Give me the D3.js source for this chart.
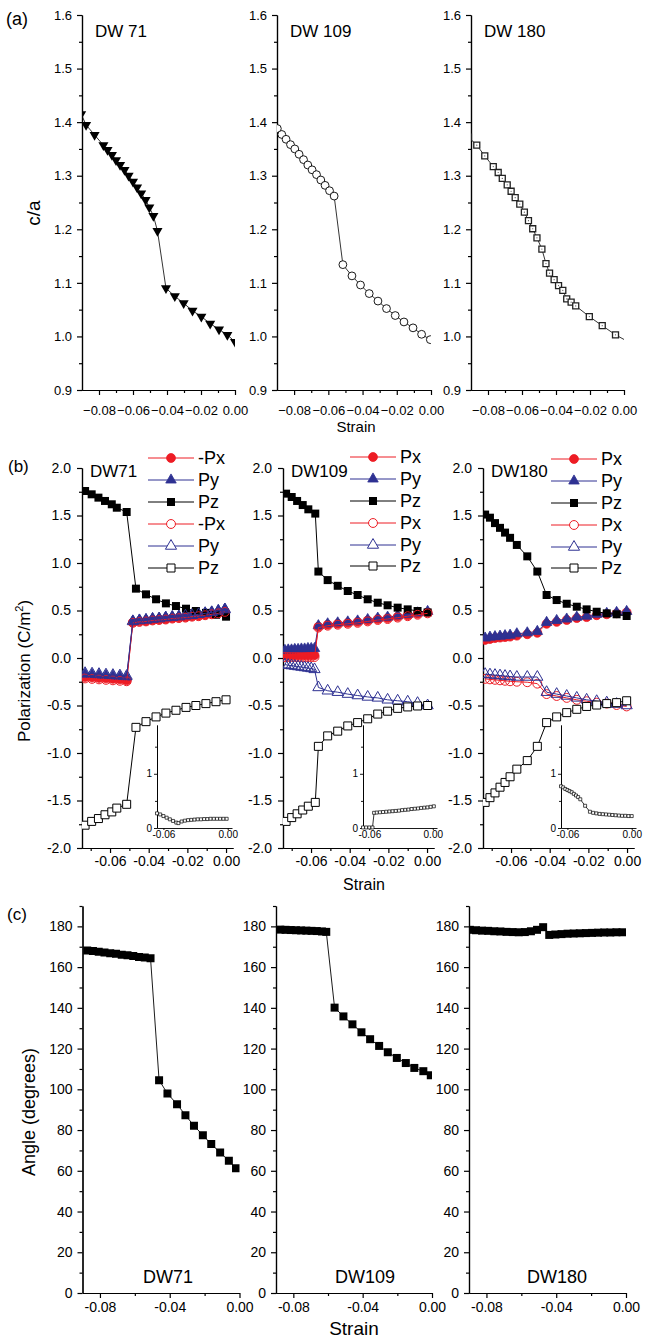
<!DOCTYPE html>
<html>
<head>
<meta charset="utf-8">
<script src="https://cdn.jsdelivr.net/npm/d3@7"></script>
<style>
  body { margin: 0; background: #fff; }
  text { font-family: "Liberation Sans", Arial, sans-serif; }
</style>
</head>
<body>
<div id="chart"></div>
<script>
// ---------- panel (a): c/a vs strain ----------
const a71_x = [-0.0905,-0.0876,-0.0826,-0.0774,-0.075,-0.0724,-0.070,-0.0676,-0.065,-0.0626,-0.060,-0.0576,-0.0552,-0.0526,-0.0504,-0.048,-0.0456,-0.0406,-0.0354,-0.0302,-0.025,-0.0198,-0.0146,-0.0094,-0.0045,0.0];
const a71   = [1.415,1.395,1.376,1.357,1.348,1.339,1.329,1.320,1.311,1.300,1.289,1.278,1.267,1.255,1.241,1.225,1.197,1.090,1.075,1.062,1.048,1.037,1.024,1.013,1.003,0.990];
const a109_x = [-0.0898,-0.0872,-0.0847,-0.0821,-0.0796,-0.0771,-0.0745,-0.072,-0.0695,-0.0669,-0.0644,-0.0619,-0.0593,-0.0566,-0.0515,-0.0462,-0.0412,-0.0361,-0.031,-0.026,-0.0209,-0.0158,-0.0105,-0.0055,-0.0004];
const a109   = [1.388,1.377,1.368,1.358,1.350,1.340,1.330,1.320,1.311,1.302,1.292,1.282,1.272,1.262,1.134,1.113,1.096,1.080,1.066,1.052,1.039,1.027,1.016,1.004,0.994];
const a180_x = [-0.0915,-0.0866,-0.0819,-0.0769,-0.074,-0.0716,-0.0687,-0.0664,-0.064,-0.0613,-0.0586,-0.0562,-0.0537,-0.0512,-0.0483,-0.0459,-0.0438,-0.0411,-0.0385,-0.036,-0.0337,-0.0311,-0.0284,-0.0204,-0.0128,-0.005,0.0025];
const a180   = [1.372,1.357,1.337,1.317,1.306,1.295,1.283,1.271,1.259,1.247,1.232,1.216,1.201,1.184,1.163,1.136,1.118,1.106,1.095,1.086,1.070,1.064,1.057,1.037,1.020,1.003,0.990];

// ---------- panel (b): polarization ----------
const b71_pz_x = [-0.0729,-0.0695,-0.066,-0.0626,-0.0591,-0.0565,-0.0514,-0.0466,-0.0414,-0.0362,-0.0311,-0.0259,-0.0207,-0.0156,-0.0104,-0.0052,0.0];
const b71_pz   = [1.758,1.723,1.688,1.653,1.618,1.582,1.537,0.730,0.670,0.618,0.575,0.547,0.519,0.495,0.475,0.455,0.435];
const b71_pzo  = [-1.76,-1.72,-1.69,-1.65,-1.62,-1.58,-1.54,-0.73,-0.67,-0.62,-0.58,-0.55,-0.52,-0.50,-0.48,-0.46,-0.44];
const b71_p_x  = [-0.0729,-0.0693,-0.0657,-0.0621,-0.0585,-0.0549,-0.0514,-0.0482,-0.0448,-0.0414,-0.038,-0.0346,-0.0312,-0.0278,-0.0244,-0.021,-0.0176,-0.0142,-0.0108,-0.0074,-0.004,-0.0006];
const b71_px   = [-0.20,-0.205,-0.21,-0.215,-0.22,-0.225,-0.235,0.375,0.385,0.39,0.40,0.405,0.41,0.42,0.425,0.43,0.44,0.445,0.455,0.465,0.475,0.49];
const b71_py   = [-0.17,-0.175,-0.18,-0.185,-0.19,-0.195,-0.20,0.39,0.40,0.405,0.415,0.42,0.43,0.435,0.44,0.45,0.455,0.465,0.475,0.485,0.50,0.515];
const b71_pxo  = [-0.215,-0.22,-0.225,-0.23,-0.235,-0.24,-0.245,0.37,0.38,0.385,0.395,0.40,0.405,0.415,0.42,0.425,0.435,0.44,0.45,0.46,0.47,0.485];
const b71_pyo  = [-0.16,-0.165,-0.17,-0.175,-0.18,-0.185,-0.19,0.385,0.395,0.40,0.41,0.415,0.425,0.43,0.435,0.445,0.45,0.46,0.47,0.48,0.495,0.51];

const b109_pz_x = [-0.0729,-0.07,-0.0672,-0.0643,-0.0614,-0.0578,-0.0562,-0.0514,-0.0462,-0.041,-0.0359,-0.0307,-0.0255,-0.0204,-0.0152,-0.01,-0.0049,0.0003];
const b109_pz   = [1.73,1.695,1.653,1.61,1.565,1.52,0.91,0.82,0.76,0.705,0.663,0.618,0.582,0.555,0.53,0.512,0.495,0.48];
const b109_pzo  = [-1.72,-1.68,-1.64,-1.60,-1.56,-1.52,-0.93,-0.82,-0.77,-0.715,-0.68,-0.64,-0.59,-0.56,-0.53,-0.515,-0.505,-0.50];
const b109_p_x  = [-0.0735,-0.0718,-0.0701,-0.0684,-0.0667,-0.065,-0.0633,-0.0616,-0.0599,-0.0582,-0.0562,-0.0514,-0.0462,-0.041,-0.0359,-0.0307,-0.0255,-0.0204,-0.0152,-0.01,-0.0049,0.0003];
const b109_px   = [0.03,0.03,0.03,0.03,0.03,0.03,0.03,0.03,0.03,0.03,0.33,0.35,0.36,0.37,0.38,0.395,0.41,0.42,0.435,0.45,0.465,0.48];
const b109_py   = [0.08,0.085,0.085,0.09,0.09,0.095,0.095,0.10,0.10,0.10,0.34,0.36,0.37,0.38,0.39,0.405,0.42,0.43,0.445,0.46,0.475,0.49];
const b109_pxo  = [0.01,0.01,0.01,0.01,0.01,0.01,0.01,0.01,0.01,0.01,0.32,0.34,0.35,0.36,0.37,0.385,0.40,0.41,0.425,0.44,0.455,0.47];
const b109_pyo  = [-0.07,-0.075,-0.08,-0.085,-0.09,-0.095,-0.10,-0.105,-0.11,-0.12,-0.31,-0.345,-0.36,-0.38,-0.395,-0.41,-0.42,-0.44,-0.45,-0.46,-0.475,-0.50];

const b180_x   = [-0.0734,-0.0709,-0.0683,-0.0657,-0.0631,-0.0605,-0.057,-0.0516,-0.0464,-0.0416,-0.0364,-0.0312,-0.026,-0.0209,-0.0157,-0.0105,-0.0054,-0.0002];
const b180_pz  = [1.51,1.477,1.42,1.37,1.32,1.265,1.19,1.07,0.91,0.663,0.61,0.571,0.54,0.512,0.487,0.47,0.46,0.442];
const b180_pzo = [-1.52,-1.47,-1.42,-1.36,-1.31,-1.25,-1.17,-1.08,-0.93,-0.68,-0.62,-0.575,-0.54,-0.51,-0.495,-0.48,-0.47,-0.45];
const b180_px  = [0.19,0.20,0.21,0.215,0.22,0.225,0.235,0.25,0.265,0.36,0.38,0.40,0.42,0.43,0.45,0.46,0.47,0.48];
const b180_py  = [0.21,0.22,0.225,0.23,0.235,0.24,0.255,0.265,0.28,0.375,0.395,0.41,0.43,0.44,0.46,0.47,0.48,0.49];
const b180_pxo = [-0.22,-0.225,-0.23,-0.235,-0.24,-0.245,-0.25,-0.255,-0.27,-0.38,-0.40,-0.42,-0.44,-0.455,-0.47,-0.48,-0.495,-0.51];
const b180_pyo = [-0.17,-0.175,-0.18,-0.185,-0.19,-0.195,-0.20,-0.20,-0.20,-0.36,-0.38,-0.40,-0.42,-0.44,-0.455,-0.47,-0.485,-0.50];

// insets in (b)
const in71_x  = [-0.066,-0.063,-0.060,-0.057,-0.054,-0.051,-0.048,-0.046,-0.043,-0.040,-0.037,-0.034,-0.031,-0.028,-0.025,-0.022,-0.019,-0.016,-0.013,-0.010,-0.007,-0.004,-0.001];
const in71    = [0.27,0.25,0.22,0.19,0.16,0.13,0.10,0.09,0.12,0.135,0.145,0.15,0.155,0.16,0.16,0.165,0.165,0.17,0.17,0.17,0.17,0.17,0.17];
const in109_x = [-0.066,-0.063,-0.060,-0.057,-0.0555,-0.053,-0.050,-0.047,-0.044,-0.041,-0.038,-0.035,-0.032,-0.029,-0.026,-0.023,-0.020,-0.017,-0.014,-0.011,-0.008,-0.005,-0.002,0.001];
const in109   = [0.01,0.01,0.01,0.01,0.28,0.285,0.29,0.295,0.30,0.305,0.31,0.315,0.32,0.33,0.335,0.34,0.35,0.355,0.36,0.37,0.375,0.38,0.39,0.40];
const in180_x = [-0.066,-0.064,-0.062,-0.060,-0.058,-0.056,-0.054,-0.052,-0.050,-0.048,-0.0435,-0.039,-0.036,-0.033,-0.030,-0.027,-0.024,-0.021,-0.018,-0.015,-0.012,-0.009,-0.006,-0.003,0.0];
const in180   = [0.77,0.75,0.72,0.70,0.68,0.66,0.63,0.60,0.57,0.53,0.41,0.30,0.28,0.27,0.26,0.255,0.25,0.245,0.24,0.235,0.23,0.225,0.225,0.22,0.22];

// ---------- panel (c): angle ----------
const c71_x = [-0.0873,-0.084,-0.0807,-0.0774,-0.0741,-0.0708,-0.0675,-0.0642,-0.0609,-0.0576,-0.0543,-0.051,-0.0461,-0.0413,-0.0358,-0.031,-0.0261,-0.021,-0.0162,-0.0111,-0.0061,-0.002];
const c71   = [168.2,167.9,167.5,167.2,166.8,166.5,166.1,165.8,165.4,165.0,164.7,164.3,104.5,97.9,92.7,87.3,82.1,77.5,73.1,69.0,64.9,61.2];
const c109_x = [-0.0875,-0.0845,-0.0815,-0.0785,-0.0755,-0.0725,-0.0695,-0.0665,-0.0635,-0.061,-0.0562,-0.0511,-0.0459,-0.0407,-0.0357,-0.0305,-0.0255,-0.0203,-0.0151,-0.0102,-0.005,-0.0007];
const c109   = [178.4,178.3,178.2,178.1,178.0,177.9,177.8,177.7,177.5,177.3,140.1,135.8,131.9,128.0,124.6,121.3,118.2,115.4,112.9,110.5,108.9,106.9];
const c180_x = [-0.0895,-0.086,-0.0825,-0.079,-0.0755,-0.072,-0.0685,-0.065,-0.0615,-0.058,-0.0545,-0.051,-0.0475,-0.044,-0.0405,-0.037,-0.0335,-0.03,-0.0265,-0.023,-0.0195,-0.016,-0.0125,-0.009,-0.0055,-0.002];
const c180   = [178.3,178.1,177.9,177.8,177.6,177.5,177.3,177.2,177.1,177.2,177.6,178.3,179.6,175.8,176.0,176.2,176.4,176.5,176.6,176.7,176.8,176.9,177.0,177.0,177.1,177.1];

// ---------- ticks and labels ----------
const aTicksX = [-0.08,-0.06,-0.04,-0.02,0.00], aMinorX = [-0.07,-0.05,-0.03,-0.01];
const aTicksY = [0.9,1.0,1.1,1.2,1.3,1.4,1.5,1.6], aMinorY = [0.95,1.05,1.15,1.25,1.35,1.45,1.55];
const bTicksX = [-0.06,-0.04,-0.02,0.00], bMinorX = [-0.07,-0.05,-0.03,-0.01];
const bTicksY = [-2.0,-1.5,-1.0,-0.5,0.0,0.5,1.0,1.5,2.0], bMinorY = [-1.75,-1.25,-0.75,-0.25,0.25,0.75,1.25,1.75];
const cTicksX = [-0.08,-0.04,0.00], cMinorX = [-0.06,-0.02];
const cTicksY = [0,20,40,60,80,100,120,140,160,180], cMinorY = [10,30,50,70,90,110,130,150,170,190];
const insTicksX = [-0.06,0.00], insTicksY = [0,1], insMinorY = [0.5,1.5];
const aNames = ["DW 71","DW 109","DW 180"];
const bNames = ["DW71","DW109","DW180"];
const legend71 = ["-Px","Py","Pz","-Px","Py","Pz"];
const legendOther = ["Px","Py","Pz","Px","Py","Pz"];

const RED = "#ed1c24", BLUE = "#2e3192";

const svg = d3.select("#chart").append("svg").attr("width", 654).attr("height", 1341);

const hy = f => d => f(d).replace("\u2212", "-");

function axes(g, x, y, o) {
  const y0 = y.range()[0], x0 = x.range()[0];
  const add = (ax, t) => g.append("g").attr("transform", t).call(ax)
    .attr("font-family", null).attr("font-size", o.fs);
  add(d3.axisBottom(x).tickValues(o.minX).tickSize(3).tickFormat("").tickSizeOuter(0), `translate(0,${y0})`);
  add(d3.axisBottom(x).tickValues(o.majX).tickSize(5).tickPadding(o.padX).tickFormat(o.fx).tickSizeOuter(0), `translate(0,${y0})`);
  add(d3.axisLeft(y).tickValues(o.minY).tickSize(3).tickFormat("").tickSizeOuter(0), `translate(${x0},0)`);
  add(d3.axisLeft(y).tickValues(o.majY).tickSize(5).tickPadding(o.padY).tickFormat(o.fy).tickSizeOuter(0), `translate(${x0},0)`);
  g.selectAll(".domain, .tick line").attr("stroke", "#000").attr("stroke-width", o.sw || 1.2);
}

let clipN = 0;
function clipped(g, x, y) {
  const id = "clip" + (clipN++);
  const [xa, xb] = x.range(), [ya, yb] = y.range();
  g.append("clipPath").attr("id", id).append("rect")
    .attr("x", xa).attr("y", yb).attr("width", xb - xa).attr("height", ya - yb);
  return g.append("g").attr("clip-path", `url(#${id})`);
}

function series(g, x, y, xs, ys, s) {
  const pts = xs.map((v, i) => [v, ys[i]]);
  g.append("path").datum(pts)
    .attr("d", d3.line().x(d => x(d[0])).y(d => y(d[1])))
    .attr("fill", "none").attr("stroke", s.line).attr("stroke-width", s.lw || 1);
  g.append("g").selectAll("path").data(pts).join("path")
    .attr("transform", d => `translate(${x(d[0])},${y(d[1])})` + (s.rot ? " rotate(180)" : ""))
    .attr("d", d3.symbol(s.type, s.size))
    .attr("fill", s.fill).attr("stroke", s.stroke || "none").attr("stroke-width", s.sw || 1);
  if (s.dot) {
    g.append("g").selectAll("circle").data(pts).join("circle")
      .attr("cx", d => x(d[0])).attr("cy", d => y(d[1])).attr("r", 0.6).attr("fill", "#555");
  }
}

// ---------- (a) ----------
const aX = [[82, 235], [277, 431], [471, 624]];
const aSeries = [
  [a71_x, a71, { type: d3.symbolTriangle, size: 44, rot: true, fill: "#000", line: "#000", lw: 0.8 }],
  [a109_x, a109, { type: d3.symbolCircle, size: 48, fill: "#fff", stroke: "#000", sw: 0.9, line: "#000", lw: 0.8 }],
  [a180_x, a180, { type: d3.symbolSquare, size: 36, fill: "#fff", stroke: "#222", sw: 1.3, line: "#000", lw: 0.8, dot: true }]
];
aX.forEach((r, i) => {
  const x = d3.scaleLinear().domain([-0.09, 0]).range(r);
  const y = d3.scaleLinear().domain([0.9, 1.6]).range([390, 15]);
  const g = svg.append("g");
  axes(g, x, y, { minX: aMinorX, majX: aTicksX, minY: aMinorY, majY: aTicksY,
    fx: d3.format(".2f"), fy: d3.format(".1f"), fs: 13, padX: 11, padY: 5 });
  const c = clipped(g, x, y);
  series(c, x, y, aSeries[i][0], aSeries[i][1], aSeries[i][2]);
  g.append("text").attr("x", r[0] + 13).attr("y", 37).attr("font-size", 17).text(aNames[i]);
});
svg.append("text").attr("x", 6).attr("y", 25).attr("font-size", 18).text("(a)");
svg.append("text").attr("x", 356).attr("y", 432).attr("font-size", 15).attr("text-anchor", "middle").text("Strain");
svg.append("text").attr("transform", "translate(40,213) rotate(-90)").attr("font-size", 19)
  .attr("text-anchor", "middle").text("c/a");

// ---------- (b) ----------
const bX = [[82, 233], [283, 434], [483, 634]];
const insX = [[157, 232], [363, 437], [561, 636]];
const legX = [148, 350, 551];
const legY = [[458, 480, 502, 524, 546, 568], [457, 479, 501, 523, 545, 566], [459, 481, 503, 525, 547, 568]];
const fullCircle = { type: d3.symbolCircle, size: 62, fill: RED, stroke: RED, sw: 0.8, line: RED };
const fullTri = { type: d3.symbolTriangle, size: 48, fill: BLUE, stroke: BLUE, sw: 0.8, line: BLUE };
const fullSq = { type: d3.symbolSquare, size: 64, fill: "#000", line: "#000" };
const openCircle = { type: d3.symbolCircle, size: 62, fill: "none", stroke: RED, sw: 1, line: RED };
const openTri = { type: d3.symbolTriangle, size: 54, fill: "none", stroke: BLUE, sw: 1, line: BLUE };
const openSq = { type: d3.symbolSquare, size: 64, fill: "#fff", stroke: "#000", sw: 1, line: "#000" };
const legStyles = [fullCircle, fullTri, fullSq, openCircle, openTri, openSq];

const bData = [
  [[b71_p_x, b71_px], [b71_p_x, b71_py], [b71_pz_x, b71_pz], [b71_p_x, b71_pxo], [b71_p_x, b71_pyo], [b71_pz_x, b71_pzo]],
  [[b109_p_x, b109_px], [b109_p_x, b109_py], [b109_pz_x, b109_pz], [b109_p_x, b109_pxo], [b109_p_x, b109_pyo], [b109_pz_x, b109_pzo]],
  [[b180_x, b180_px], [b180_x, b180_py], [b180_x, b180_pz], [b180_x, b180_pxo], [b180_x, b180_pyo], [b180_x, b180_pzo]]
];
const insData = [[in71_x, in71], [in109_x, in109], [in180_x, in180]];

bX.forEach((r, i) => {
  const x = d3.scaleLinear().domain([-0.0745, 0.0036]).range(r);
  const y = d3.scaleLinear().domain([-2, 2]).range([848, 468]);
  const g = svg.append("g");
  axes(g, x, y, { minX: bMinorX, majX: bTicksX, minY: bMinorY, majY: bTicksY,
    fx: hy(d3.format(".2f")), fy: hy(d3.format(".1f")), fs: 14, padX: 3, padY: 6 });
  const c = clipped(g, x, y);
  bData[i].forEach((d, k) => series(c, x, y, d[0], d[1], legStyles[k]));

  // inset
  const ix = d3.scaleLinear().domain([-0.066, 0.004]).range(insX[i]);
  const iy = d3.scaleLinear().domain([0, 1.9]).range([828, 725]);
  const gi = svg.append("g");
  gi.append("g").attr("transform", "translate(0,828)")
    .call(d3.axisBottom(ix).tickValues(insTicksX).tickSize(2).tickPadding(1).tickFormat(hy(d3.format(".2f"))).tickSizeOuter(0))
    .attr("font-family", null).attr("font-size", 10);
  gi.append("g").attr("transform", `translate(${insX[i][0]},0)`)
    .call(d3.axisLeft(iy).tickValues(insMinorY).tickSize(2).tickFormat("").tickSizeOuter(0));
  gi.append("g").attr("transform", `translate(${insX[i][0]},0)`)
    .call(d3.axisLeft(iy).tickValues(insTicksY).tickSize(3).tickPadding(2).tickFormat(d3.format("d")).tickSizeOuter(0))
    .attr("font-family", null).attr("font-size", 10);
  gi.selectAll(".domain, .tick line").attr("stroke", "#000").attr("stroke-width", 0.9);
  series(gi, ix, iy, insData[i][0], insData[i][1],
    { type: d3.symbolSquare, size: 9, fill: "#fff", stroke: "#000", sw: 0.7, line: "#000", lw: 0.8 });

  // legend
  const labels = i === 0 ? legend71 : legendOther;
  legStyles.forEach((s, k) => {
    const row = svg.append("g").attr("transform", `translate(${legX[i]},${legY[i][k]})`);
    row.append("line").attr("x1", 0).attr("x2", 46).attr("stroke", s.line).attr("stroke-width", 1);
    row.append("path").attr("transform", "translate(23,0)").attr("d", d3.symbol(s.type, s.size)())
      .attr("fill", s.fill === "none" ? "#fff" : s.fill).attr("stroke", s.stroke || "none").attr("stroke-width", s.sw || 1);
    row.append("text").attr("x", 50).attr("y", 6).attr("font-size", 18).text(labels[k]);
  });
  g.append("text").attr("x", r[0] + 8).attr("y", 477).attr("font-size", 17).text(bNames[i]);
});
svg.append("text").attr("x", 8).attr("y", 472).attr("font-size", 17).text("(b)");
svg.append("text").attr("x", 364).attr("y", 890).attr("font-size", 16).attr("text-anchor", "middle").text("Strain");
const pl = svg.append("text").attr("transform", "translate(30,671) rotate(-90)").attr("font-size", 17)
  .attr("text-anchor", "middle");
pl.append("tspan").text("Polarization (C/m");
pl.append("tspan").attr("font-size", 11).attr("dy", -7).text("2");
pl.append("tspan").attr("dy", 7).text(")");

// ---------- (c) ----------
const cX = [[82.5, 239.5], [276, 432], [469, 626]];
const cData = [[c71_x, c71], [c109_x, c109], [c180_x, c180]];
const cLab = [168, 365, 557];
cX.forEach((r, i) => {
  const x = d3.scaleLinear().domain([-0.09, 0]).range(r);
  const y = d3.scaleLinear().domain([0, 190]).range([1293, 906]);
  const g = svg.append("g");
  axes(g, x, y, { minX: cMinorX, majX: cTicksX, minY: cMinorY, majY: cTicksY,
    fx: hy(d3.format(".2f")), fy: d3.format("d"), fs: 14, padX: 4, padY: 5 });
  const c = clipped(g, x, y);
  series(c, x, y, cData[i][0], cData[i][1], { type: d3.symbolSquare, size: 64, fill: "#000", line: "#000", lw: 0.9 });
  g.append("text").attr("x", cLab[i]).attr("y", 1283).attr("font-size", 18).attr("text-anchor", "middle").text(bNames[i]);
});
svg.append("text").attr("x", 7).attr("y", 920).attr("font-size", 17).text("(c)");
svg.append("text").attr("x", 354).attr("y", 1335).attr("font-size", 19).attr("text-anchor", "middle").text("Strain");
svg.append("text").attr("transform", "translate(35,1112) rotate(-90)").attr("font-size", 18)
  .attr("text-anchor", "middle").text("Angle (degrees)");
</script>
</body>
</html>
